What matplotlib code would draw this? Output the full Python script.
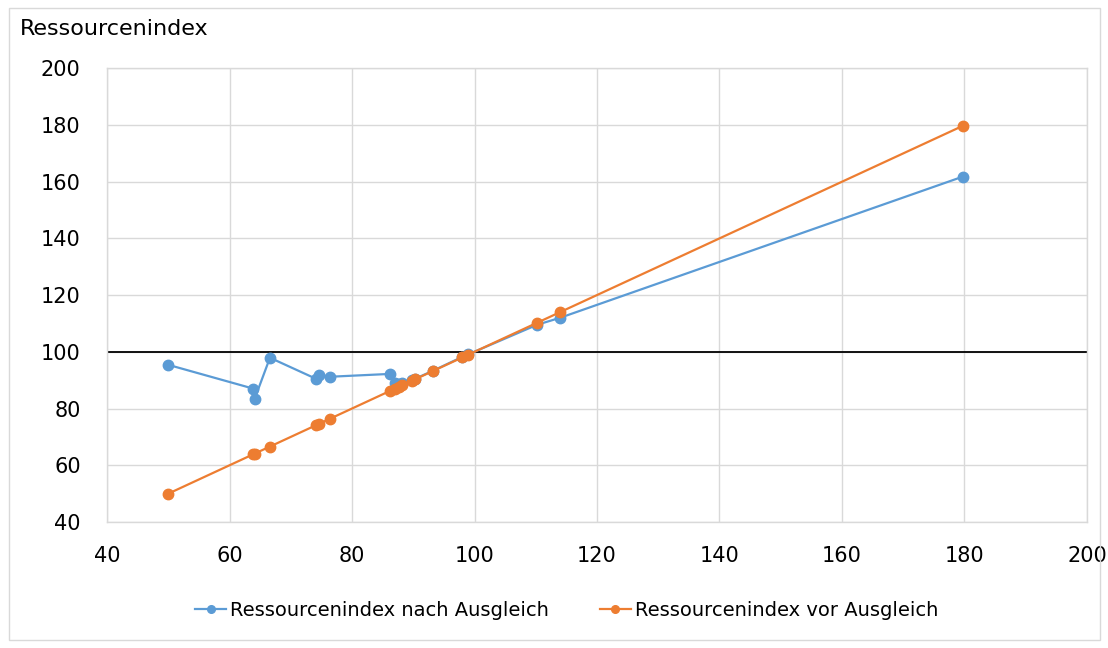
import matplotlib.pyplot as plt
from matplotlib.patches import Rectangle

# Data.
index_x       = [50.0, 63.9, 64.1, 66.6, 74.1, 74.6, 76.4, 86.2, 87.0, 87.6, 88.2,
                 89.8, 90.3, 93.2, 98.0, 99.0, 110.2, 114.0, 179.7]
nach_ausgleich = [95.4, 87.0, 83.4, 97.9, 90.5, 91.9, 91.2, 92.2, 89.0, 88.6, 88.9,
                  90.0, 90.5, 93.3, 98.2, 99.1, 109.5, 112.0, 161.7]
vor_ausgleich  = [50.0, 63.9, 64.1, 66.6, 74.1, 74.6, 76.4, 86.2, 87.0, 87.6, 88.2,
                  89.8, 90.3, 93.2, 98.0, 99.0, 110.2, 114.0, 179.6]
x_ticks = [40, 60, 80, 100, 120, 140, 160, 180, 200]
y_ticks = [40, 60, 80, 100, 120, 140, 160, 180, 200]

plt.rcParams['font.family'] = ['DejaVu Sans']

blue   = "#5B9BD5"
orange = "#ED7D31"
grid_c = "#D9D9D9"

fig = plt.figure(figsize=(11.08, 6.48), dpi=100)
ax  = fig.add_axes([0.0966, 0.1944, 0.8844, 0.7006])

# Outer chart border.
fig.patches.append(Rectangle((0.008, 0.012), 0.985, 0.976, transform=fig.transFigure,
                             fill=False, edgecolor=grid_c, linewidth=1.0))

ax.plot(index_x, nach_ausgleich, color=blue, linewidth=1.6, marker='o', markersize=7.5,
        label="Ressourcenindex nach Ausgleich", zorder=3)
ax.plot(index_x, vor_ausgleich, color=orange, linewidth=1.6, marker='o', markersize=7.5,
        label="Ressourcenindex vor Ausgleich", zorder=4)
ax.axhline(100, color='black', linewidth=1.3, zorder=2)

# Style the axes like Excel.
ax.set_xlim(40, 200)
ax.set_ylim(40, 200)
ax.set_xticks(x_ticks)
ax.set_yticks(y_ticks)
ax.grid(True, color=grid_c, linewidth=1.0, zorder=0)
ax.set_axisbelow(True)
for side in ax.spines:
    ax.spines[side].set_color(grid_c)
    ax.spines[side].set_linewidth(1.0)
ax.tick_params(length=0, labelsize=15, colors='black')
ax.tick_params(axis='y', pad=19)
ax.tick_params(axis='x', pad=17)

fig.text(0.018, 0.955, "Ressourcenindex", fontsize=16, ha='left', va='center')

leg = ax.legend(loc='center', bbox_to_anchor=(0.469, -0.194), ncol=2, frameon=False,
                fontsize=14, handlelength=1.6, columnspacing=2.6, handletextpad=0.2)
for line in leg.get_lines():
    line.set_markersize(5.5)

fig.savefig("out.png", dpi=100)
